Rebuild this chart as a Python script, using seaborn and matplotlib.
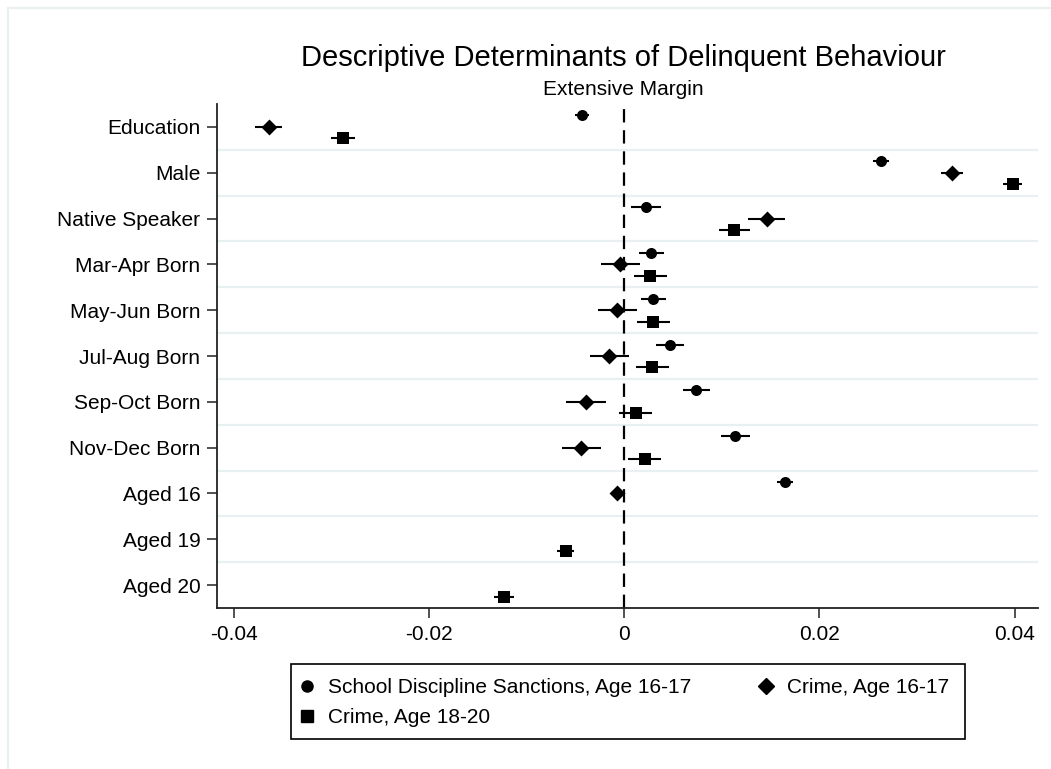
import numpy as np
import pandas as pd
import seaborn as sns
import matplotlib.pyplot as plt
from matplotlib.lines import Line2D
from matplotlib.patches import Rectangle

categories = ["Education", "Male", "Native Speaker", "Mar-Apr Born", "May-Jun Born",
              "Jul-Aug Born", "Sep-Oct Born", "Nov-Dec Born", "Aged 16", "Aged 19", "Aged 20"]

series_names = ["School Discipline Sanctions, Age 16-17", "Crime, Age 16-17", "Crime, Age 18-20"]

nan = np.nan
school_coef = [-0.0043, 0.0263, 0.00225, 0.0028, 0.0030, 0.0047, 0.0074, 0.0114, 0.0165, nan, nan]
school_ci = [0.0007, 0.0008, 0.0015, 0.0013, 0.0013, 0.0014, 0.0014, 0.0015, 0.0008, nan, nan]
crime1617_coef = [-0.0364, 0.0336, 0.0146, -0.0004, -0.0007, -0.0015, -0.0039, -0.0044, -0.0007, nan, nan]
crime1617_ci = [0.0014, 0.0011, 0.0019, 0.0020, 0.0020, 0.0020, 0.0020, 0.0020, 0.0006, nan, nan]
crime1820_coef = [-0.0288, 0.0398, 0.0113, 0.0027, 0.0030, 0.0029, 0.0012, 0.0021, nan, -0.0060, -0.0123]
crime1820_ci = [0.0012, 0.0010, 0.0016, 0.0017, 0.0017, 0.0017, 0.0017, 0.0017, nan, 0.0009, 0.0010]

xticks = [-0.04, -0.02, 0, 0.02, 0.04]
xtick_labels = ["-0.04", "-0.02", "0", "0.02", "0.04"]

sns.set_style("white")
plt.rcParams['font.family'] = ['Liberation Sans', 'DejaVu Sans']
plt.rcParams['text.color'] = 'black'
plt.rcParams['xtick.labelcolor'] = 'black'
plt.rcParams['ytick.labelcolor'] = 'black'

W, H = 1051, 769
fig = plt.figure(figsize=(W / 100, H / 100), dpi=100)
ax = fig.add_axes([217 / W, 1 - 608 / H, (1038 - 217) / W, (608 - 104) / H])

offsets = [-0.25, 0.0, 0.25]
markers = ["o", "D", "s"]
sizes = [63, 66, 63]
coefs = [school_coef, crime1617_coef, crime1820_coef]
cis = [school_ci, crime1617_ci, crime1820_ci]

# separators between rows
for k in range(len(categories) - 1):
    ax.axhline(k + 0.5, color="#e8f0f2", lw=1.6, zorder=0)

ax.axvline(0, color="black", lw=1.6, ls=(0, (6, 3.5)), zorder=1)

handles = []
for name, c, e, off, m, s in zip(series_names, coefs, cis, offsets, markers, sizes):
    df = pd.DataFrame({"coef": c, "ci": e, "pos": np.arange(len(categories)) + off}).dropna()
    ax.hlines(df["pos"], df["coef"] - df["ci"], df["coef"] + df["ci"], color="black", lw=1.5, zorder=2)
    sns.scatterplot(data=df, x="coef", y="pos", marker=m, s=s, color="black",
                    edgecolor="black", linewidth=0, ax=ax, zorder=3)
    handles.append(Line2D([], [], marker=m, color="black", ls="none",
                          markersize=8, label=name))

ax.set_ylim(len(categories) - 0.5, -0.5)
ax.set_xlim(-0.0417, 0.0424)
ax.set_yticks(range(len(categories)))
ax.set_yticklabels(categories, fontsize=15)
ax.set_xticks(xticks)
ax.set_xticklabels(xtick_labels, fontsize=15)
ax.set_xlabel("")
ax.set_ylabel("")
for side in ["top", "right"]:
    ax.spines[side].set_visible(False)
for side in ["left", "bottom"]:
    ax.spines[side].set_color("#222222")
    ax.spines[side].set_linewidth(1.3)
ax.tick_params(axis="both", which="major", length=7, width=1.1, color="#222222",
               direction="out", left=True, bottom=True)
ax.tick_params(axis="y", pad=5)
ax.tick_params(axis="x", pad=5.5)

fig.text(0.593, 0.924, "Descriptive Determinants of Delinquent Behaviour",
         ha="center", va="center", fontsize=21)
fig.text(0.593, 0.883, "Extensive Margin", ha="center", va="center", fontsize=15)

leg = fig.legend(handles=[handles[0], handles[2], handles[1]], loc="center left",
                 bbox_to_anchor=(296.6 / W, 1 - 702.5 / H), ncol=2, fontsize=15,
                 frameon=False, columnspacing=3.1, handletextpad=0.5, handlelength=1.0,
                 borderpad=0, labelspacing=0.54, borderaxespad=0)

fig.add_artist(Rectangle((291 / W, 1 - 739 / H), (965 - 291) / W, (739 - 664) / H,
                         transform=fig.transFigure, fill=False, edgecolor="black", lw=1.2))

# faint outer frame
fig.add_artist(Line2D([8 / W, 8 / W], [0, 1 - 8 / H], transform=fig.transFigure,
                      color="#e8f0f2", lw=1.5))
fig.add_artist(Line2D([8 / W, 1], [1 - 8 / H, 1 - 8 / H], transform=fig.transFigure,
                      color="#e8f0f2", lw=1.5))

fig.savefig("out.png", dpi=100)
